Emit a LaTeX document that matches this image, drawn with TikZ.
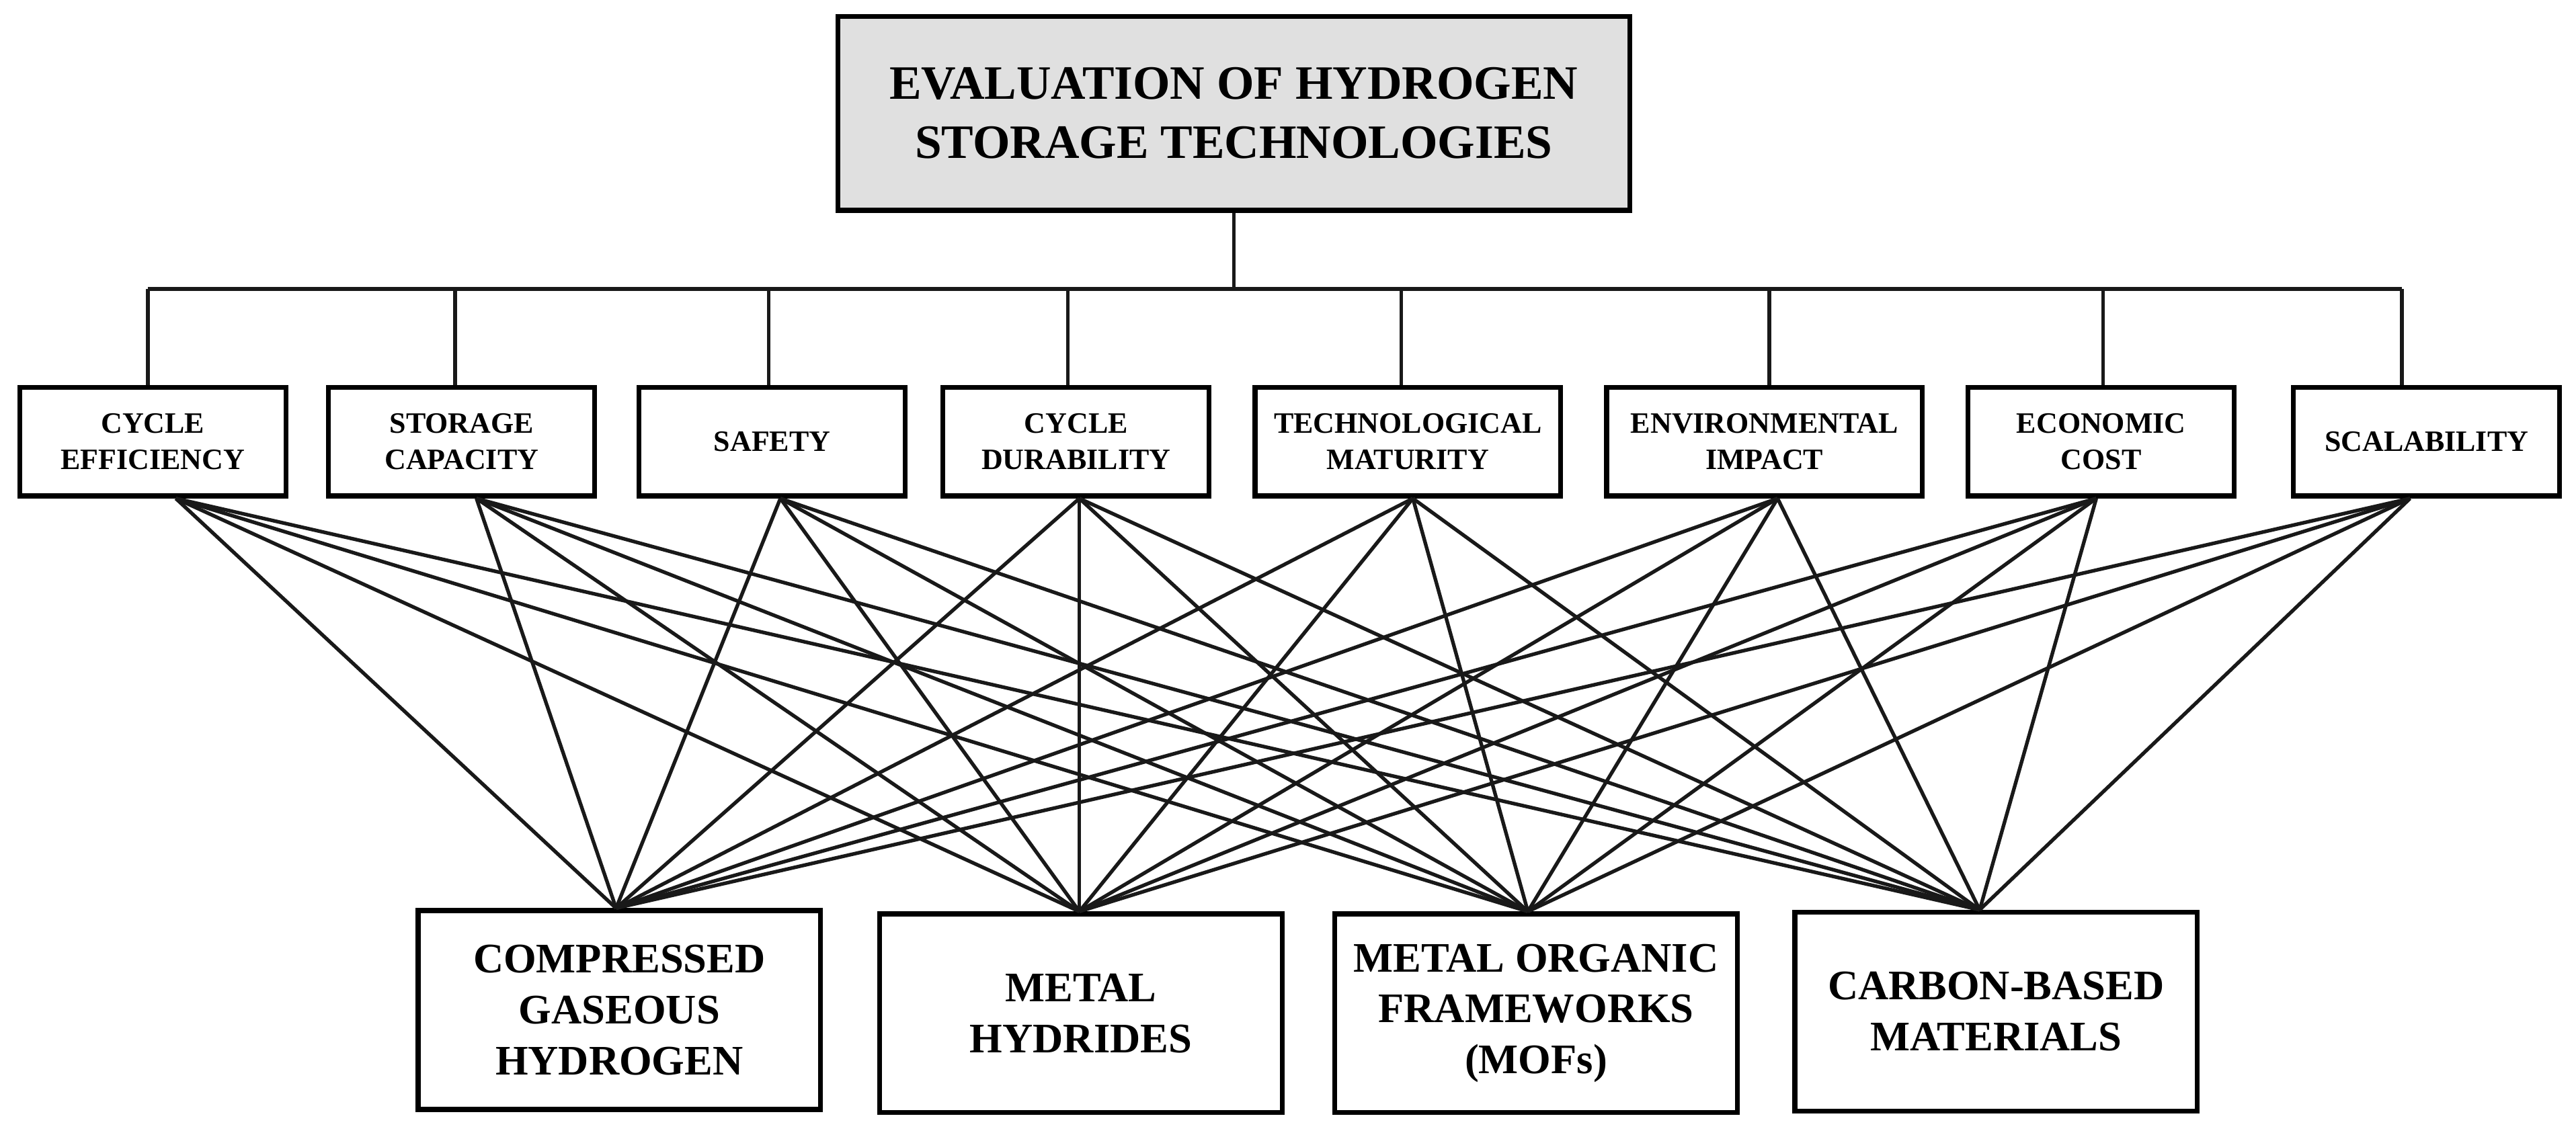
\documentclass[tikz,border=0pt]{standalone}
\usepackage{fontspec}
\setmainfont{Liberation Serif}
\begin{document}
\begin{tikzpicture}[x=0.5pt,y=-0.5pt,
 box/.style={draw=black,line width=1.5pt,align=center,font=\bfseries,inner sep=0pt},
 crit/.style={box,minimum height=33pt,font=\bfseries\fontsize{9}{11}\selectfont},
 alt/.style={box,minimum width=122.5pt,minimum height=60.5pt,font=\bfseries\fontsize{12.8}{15.5}\selectfont},
 link/.style={line width=1.1pt,draw=black!90}]
\useasboundingbox (0,0) rectangle (1568,692);
\node[box,fill=black!12,minimum width=241pt,minimum height=59pt,font=\bfseries\fontsize{14.6}{18}\selectfont] (top) at (751,69) {EVALUATION OF HYDROGEN\\STORAGE TECHNOLOGIES};
\node[crit,minimum width=81pt] (c1) at (93,269) {CYCLE\\EFFICIENCY};
\node[crit,minimum width=81pt] (c2) at (281,269) {STORAGE\\CAPACITY};
\node[crit,minimum width=81pt] (c3) at (470,269) {SAFETY};
\node[crit,minimum width=81pt] (c4) at (655,269) {CYCLE\\DURABILITY};
\node[crit,minimum width=93pt] (c5) at (857,269) {TECHNOLOGICAL\\MATURITY};
\node[crit,minimum width=96pt] (c6) at (1074,269) {ENVIRONMENTAL\\IMPACT};
\node[crit,minimum width=81pt] (c7) at (1279,269) {ECONOMIC\\COST};
\node[crit,minimum width=81pt] (c8) at (1477,269) {SCALABILITY};
\node[alt] (a1) at (377,615) {COMPRESSED\\GASEOUS\\HYDROGEN};
\node[alt] (a2) at (658,617) {METAL\\HYDRIDES};
\node[alt] (a3) at (935,617) {METAL ORGANIC\\FRAMEWORKS\\(MOFs)};
\node[alt] (a4) at (1215,616) {CARBON-BASED\\MATERIALS};
\coordinate (hl) at (90,176);
\coordinate (hr) at (1462,176);
\draw[link] (top.south) -- (top.south |- hl);
\draw[link] (hl) -- (hr);
\foreach \c/\dx in {c1/-3,c2/-4,c3/-2,c4/-5,c5/-4,c6/3,c7/1,c8/-15}{
  \draw[link] ([xshift=\dx*0.5pt]\c.north |- hl) -- ([xshift=\dx*0.5pt]\c.north);
}
\foreach \c/\dx in {c1/14,c2/9,c3/5,c4/2,c5/3,c6/8,c7/-3,c8/-10}{
  \foreach \a/\ax in {a1/-2,a2/-1,a3/-5,a4/-10}{
    \draw[link] ([xshift=\dx*0.5pt]\c.south) -- ([xshift=\ax*0.5pt]\a.north);
  }
}
\end{tikzpicture}
\end{document}
